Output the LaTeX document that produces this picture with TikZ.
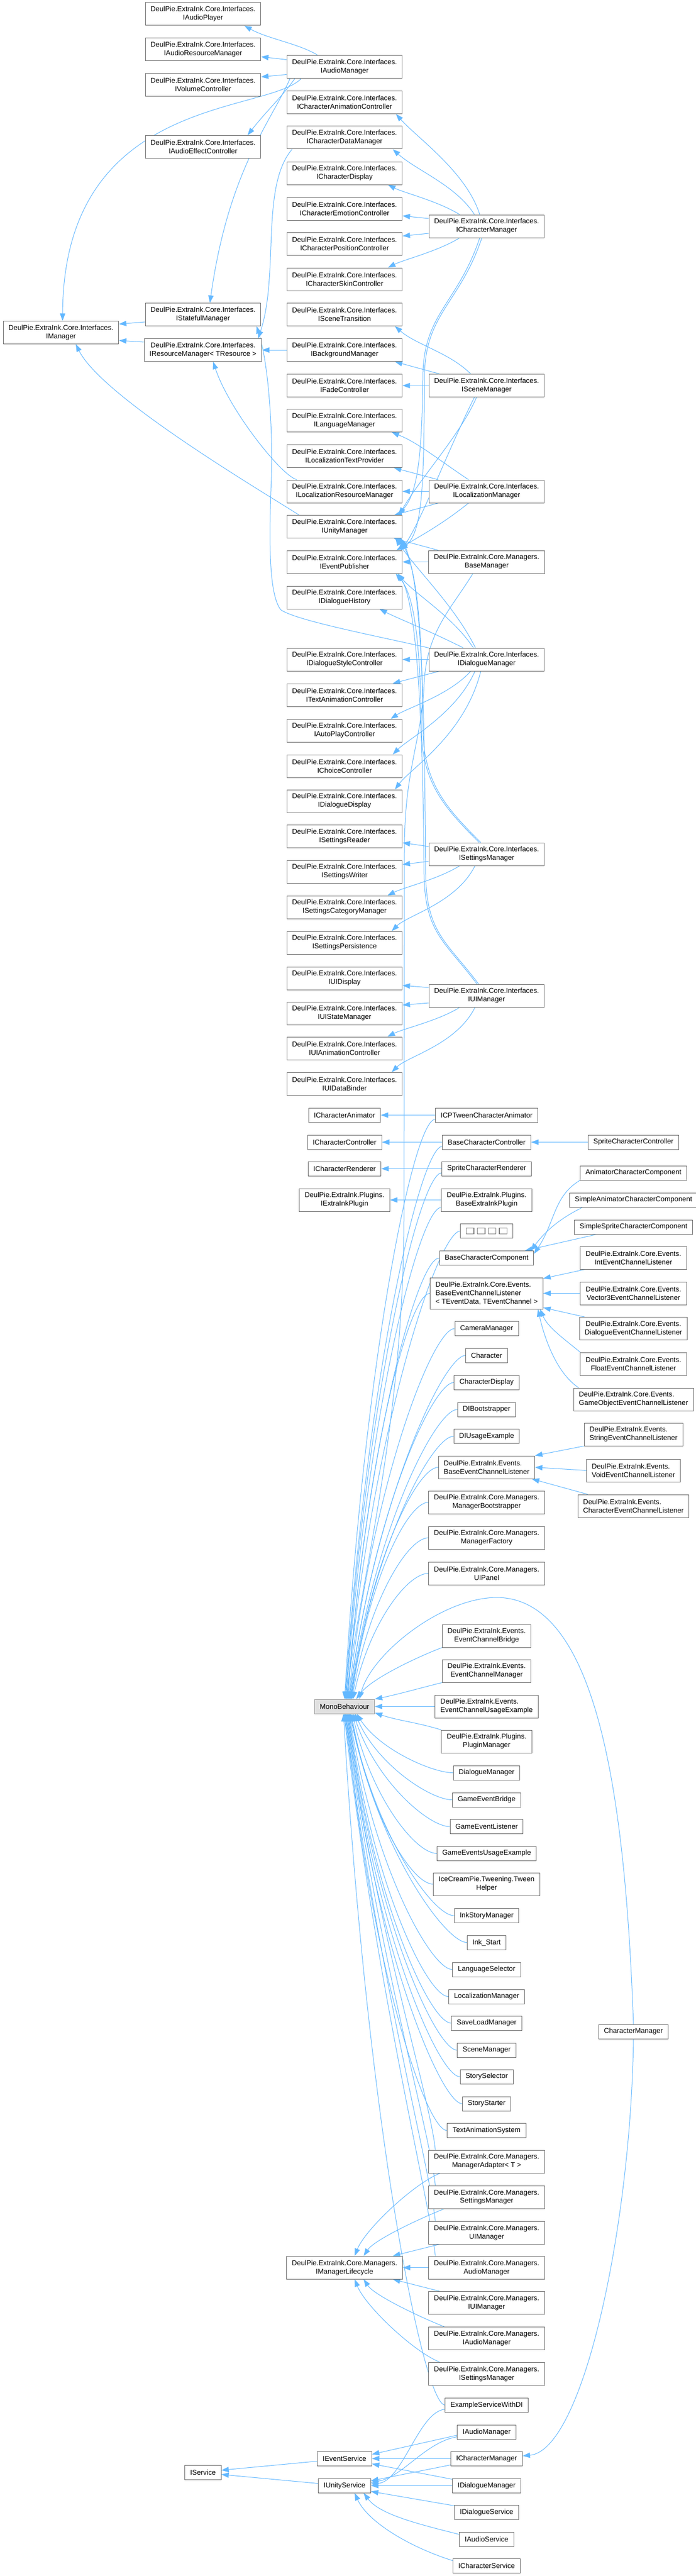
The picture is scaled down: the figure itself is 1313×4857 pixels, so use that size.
\documentclass[tikz,border=0pt]{standalone}
\usepackage{fontspec}
\setmainfont{Liberation Sans}
\usetikzlibrary{arrows.meta,calc}
\definecolor{eb}{HTML}{63B8FF}
\definecolor{bd}{HTML}{666666}
\definecolor{mbf}{HTML}{E0E0E0}
\definecolor{mbd}{HTML}{999999}
\pgfdeclarelayer{bg}
\pgfdeclarelayer{edges}
\pgfsetlayers{bg,edges,main}
\newcommand\xI{DeulPie.ExtraInk.Core.Interfaces.}
\newcommand\xM{DeulPie.ExtraInk.Core.Managers.}
\newcommand\xCE{DeulPie.ExtraInk.Core.Events.}
\newcommand\xE{DeulPie.ExtraInk.Events.}
\newcommand\xP{DeulPie.ExtraInk.Plugins.}
\newcommand\tofu{{\setlength\fboxsep{0pt}\setlength\fboxrule{1.4pt}\textcolor{gray}{\fbox{\rule{0pt}{10pt}\rule{13pt}{0pt}}}}}
\tikzset{
 cls/.style={draw=bd, fill=white, line width=1pt, inner xsep=10pt, inner ysep=0pt, align=center, minimum height=27pt, font=\fontsize{13.33pt}{16pt}\selectfont},
 b1/.style={cls},
 b2/.style={cls, minimum height=43pt},
 b3/.style={cls, minimum height=59pt},
 lft/.style={align=left},
 inh/.style={draw=eb, line width=1pt, -{Triangle[length=14pt,width=10pt]}},
}
\newcommand\tomb[2]{\draw[inh] let \p1=(#1), \p2=(#2) in (\p1) .. controls (\x1-40pt,\y1) and ({\x2+0.3*(\x1-40pt-\x2)},{\y2+0.6*(\y1-\y2)}) .. (\p2);}
\newcommand\tombv[2]{\draw[inh] let \p1=([xshift=13pt]#1.north west), \p2=(#2) in (\p1) .. controls (\x1-10pt,\y1+100pt) and ({\x2+0.35*(\x1-\x2)},{\y2+0.5*(\y1-\y2)}) .. (\p2);}
\begin{document}
\begin{tikzpicture}[x=1pt,y=-1pt]
\useasboundingbox (0,0) rectangle (1313,4857);
\begin{pgfonlayer}{bg}
\fill[white] (0,0) rectangle (1313,4857);
\end{pgfonlayer}
% column A / C
\node[b2] (im) at (115,627) {\xI\\IManager};
\node[b2] (iap) at (383,26.5) {\xI\\IAudioPlayer};
\node[b2] (iarm) at (383,93) {\xI\\IAudioResourceManager};
\node[b2] (ivc) at (383,160) {\xI\\IVolumeController};
\node[b2] (iaec) at (383,277) {\xI\\IAudioEffectController};
\node[b2] (ism) at (383,593) {\xI\\IStatefulManager};
\node[b2] (irm) at (383,660) {\xI\\IResourceManager< TResource >};
\node[b1] (isvc) at (383,4661.5) {IService};
% column D
\node[b2] (iam) at (650,126.5) {\xI\\IAudioManager};
\node[b2] (icac) at (650,193) {\xI\\ICharacterAnimationController};
\node[b2] (icdm) at (650,259.5) {\xI\\ICharacterDataManager};
\node[b2] (icd) at (650,326.5) {\xI\\ICharacterDisplay};
\node[b2] (icec) at (650,393.5) {\xI\\ICharacterEmotionController};
\node[b2] (icpc) at (650,459.5) {\xI\\ICharacterPositionController};
\node[b2] (icsc) at (650,526.5) {\xI\\ICharacterSkinController};
\node[b2] (ist) at (650,593) {\xI\\ISceneTransition};
\node[b2] (ibg) at (650,660) {\xI\\IBackgroundManager};
\node[b2] (ifc) at (650,727) {\xI\\IFadeController};
\node[b2] (ilm) at (650,793) {\xI\\ILanguageManager};
\node[b2] (iltp) at (650,860) {\xI\\ILocalizationTextProvider};
\node[b2] (ilrm) at (650,926.5) {\xI\\ILocalizationResourceManager};
\node[b2] (iun) at (650,993) {\xI\\IUnityManager};
\node[b2] (iep) at (650,1059.5) {\xI\\IEventPublisher};
\node[b2] (idh) at (650,1126.5) {\xI\\IDialogueHistory};
\node[b2] (idsc) at (650,1243.5) {\xI\\IDialogueStyleController};
\node[b2] (itac) at (650,1310.5) {\xI\\ITextAnimationController};
\node[b2] (iapc) at (650,1377.5) {\xI\\IAutoPlayController};
\node[b2] (icc) at (650,1444.5) {\xI\\IChoiceController};
\node[b2] (idd) at (650,1510.5) {\xI\\IDialogueDisplay};
\node[b2] (isr) at (650,1577) {\xI\\ISettingsReader};
\node[b2] (isw) at (650,1643.5) {\xI\\ISettingsWriter};
\node[b2] (iscm) at (650,1710.5) {\xI\\ISettingsCategoryManager};
\node[b2] (isp) at (650,1777.5) {\xI\\ISettingsPersistence};
\node[b2] (iuid) at (650,1844.5) {\xI\\IUIDisplay};
\node[b2] (iusm) at (650,1910.5) {\xI\\IUIStateManager};
\node[b2] (iuac) at (650,1976.5) {\xI\\IUIAnimationController};
\node[b2] (iudb) at (650,2043.5) {\xI\\IUIDataBinder};
\node[b1] (ica) at (650,2102.5) {ICharacterAnimator};
\node[b1] (ictl) at (650,2153.5) {ICharacterController};
\node[b1] (icr) at (650,2203.5) {ICharacterRenderer};
\node[b2] (iplug) at (650,2262.5) {\xP\\IExtraInkPlugin};
\node[b1, fill=mbf, draw=mbd] (mb) at (650,3217.5) {MonoBehaviour};
\node[b2] (iml) at (650,4275.5) {\xM\\IManagerLifecycle};
\node[b1] (ies) at (650,4635.5) {IEventService};
\node[b1] (ius) at (650,4686.5) {IUnityService};
% column E
\node[b2] (icm) at (918,426.5) {\xI\\ICharacterManager};
\node[b2] (iscnm) at (918,727) {\xI\\ISceneManager};
\node[b2] (ilocm) at (918,926.5) {\xI\\ILocalizationManager};
\node[b2] (bm) at (918,1059.5) {\xM\\BaseManager};
\node[b2] (idm) at (918,1243.5) {\xI\\IDialogueManager};
\node[b2] (isetm) at (918,1610.5) {\xI\\ISettingsManager};
\node[b2] (iuim) at (918,1877.5) {\xI\\IUIManager};
\node[b1] (ictca) at (918,2102.5) {ICPTweenCharacterAnimator};
\node[b1] (bcc) at (918,2153.5) {BaseCharacterController};
\node[b1] (scr) at (918,2203.5) {SpriteCharacterRenderer};
\node[b2] (bplug) at (918,2262.5) {\xP\\BaseExtraInkPlugin};
\node[b1] (tofu) at (918,2321) {\tofu\hspace{5pt}\tofu\hspace{5pt}\tofu\hspace{5pt}\tofu};
\node[b1] (bcomp) at (918,2372) {BaseCharacterComponent};
\node[b3, lft] (becl) at (918,2438.5) {\xCE\\BaseEventChannelListener\\< TEventData, TEventChannel >};
\node[b1] (camm) at (918,2505) {CameraManager};
\node[b1] (chr) at (918,2555.5) {Character};
\node[b1] (chd) at (918,2606.5) {CharacterDisplay};
\node[b1] (dib) at (918,2657.5) {DIBootstrapper};
\node[b1] (diu) at (918,2708) {DIUsageExample};
\node[b2, lft] (ebecl) at (918,2766.5) {\xE\\BaseEventChannelListener};
\node[b2] (mbs) at (918,2832.5) {\xM\\ManagerBootstrapper};
\node[b2] (mf) at (918,2899.5) {\xM\\ManagerFactory};
\node[b2] (uip) at (918,2966.5) {\xM\\UIPanel};
\node[b2] (ecb) at (918,3084.5) {\xE\\EventChannelBridge};
\node[b2] (ecm) at (918,3150.5) {\xE\\EventChannelManager};
\node[b2, lft] (ecue) at (918,3217.5) {\xE\\EventChannelUsageExample};
\node[b2] (plm) at (918,3283.5) {\xP\\PluginManager};
\node[b1] (dlm) at (918,3342.5) {DialogueManager};
\node[b1] (geb) at (918,3393.5) {GameEventBridge};
\node[b1] (gel) at (918,3444) {GameEventListener};
\node[b1] (geue) at (918,3494.5) {GameEventsUsageExample};
\node[b2] (twh) at (918,3552.5) {IceCreamPie.Tweening.Tween\\Helper};
\node[b1] (ksm) at (918,3612) {InkStoryManager};
\node[b1] (inks) at (918,3662.5) {Ink\_Start};
\node[b1] (lsel) at (918,3713.5) {LanguageSelector};
\node[b1] (locm) at (918,3764.5) {LocalizationManager};
\node[b1] (slm) at (918,3814.5) {SaveLoadManager};
\node[b1] (scm) at (918,3865.5) {SceneManager};
\node[b1] (ssel) at (918,3915.5) {StorySelector};
\node[b1] (sst) at (918,3966.5) {StoryStarter};
\node[b1] (tas) at (918,4017) {TextAnimationSystem};
\node[b2] (mad) at (918,4075.5) {\xM\\ManagerAdapter< T >};
\node[b2] (msm) at (918,4142.5) {\xM\\SettingsManager};
\node[b2] (muim) at (918,4209.5) {\xM\\UIManager};
\node[b2] (mam) at (918,4275.5) {\xM\\AudioManager};
\node[b2] (miui) at (918,4342) {\xM\\IUIManager};
\node[b2] (miau) at (918,4409) {\xM\\IAudioManager};
\node[b2] (mise) at (918,4475.5) {\xM\\ISettingsManager};
\node[b1] (esdi) at (918,4534.5) {ExampleServiceWithDI};
\node[b1] (siam) at (918,4585.5) {IAudioManager};
\node[b1] (sicm) at (918,4635.5) {ICharacterManager};
\node[b1] (sidm) at (918,4686.5) {IDialogueManager};
\node[b1] (sids) at (918,4736.5) {IDialogueService};
\node[b1] (sias) at (918,4787.5) {IAudioService};
\node[b1] (sics) at (918,4838) {ICharacterService};
% column F
\node[b1] (scc) at (1195,2153.5) {SpriteCharacterController};
\node[b1] (acc) at (1195,2211.5) {AnimatorCharacterComponent};
\node[b1] (sacc) at (1195,2262.5) {SimpleAnimatorCharacterComponent};
\node[b1] (sscc) at (1195,2313.5) {SimpleSpriteCharacterComponent};
\node[b2] (iecl) at (1195,2371.5) {\xCE\\IntEventChannelListener};
\node[b2] (v3) at (1195,2438.5) {\xCE\\Vector3EventChannelListener};
\node[b2] (decl) at (1195,2505) {\xCE\\DialogueEventChannelListener};
\node[b2] (fecl) at (1195,2571.5) {\xCE\\FloatEventChannelListener};
\node[b2, lft] (goecl) at (1195,2638.5) {\xCE\\GameObjectEventChannelListener};
\node[b2, lft] (strl) at (1195,2704.5) {\xE\\StringEventChannelListener};
\node[b2, lft] (voidl) at (1195,2772.5) {\xE\\VoidEventChannelListener};
\node[b2, lft] (chrl) at (1195,2839.5) {\xE\\CharacterEventChannelListener};
\node[b1] (cm) at (1195,3830.5) {CharacterManager};

\begin{pgfonlayer}{edges}
% audio / top-left
\draw[inh] ([xshift=-50pt]iam.north) .. controls +(-35,-22) and +(45,25) .. ([xshift=78pt]iap.south);
\draw[inh] ([yshift=14pt]iam.west) -- ([yshift=-14pt]iarm.east);
\draw[inh] ([yshift=-14pt]iam.west) -- ([yshift=15pt]ivc.east);
\draw[inh] ([xshift=-94pt]iam.south) .. controls +(-25,35) and +(35,-45) .. ([xshift=84pt]iaec.north);
\draw[inh] ([xshift=-82pt]iam.south) .. controls +(-68,67) and +(2,-426) .. ([xshift=3pt]im.north);
\draw[inh] ([xshift=-103pt]iam.south) .. controls +(-35,80) and +(35,-250) .. ([xshift=13pt]ism.north);
\draw[inh] ([xshift=-99pt]icdm.south) .. controls +(-60,70) and +(40,-120) .. ([xshift=104pt]irm.north);
\draw[inh] (ibg.west) -- (irm.east);
\draw[inh] ([yshift=-14pt]ism.west) -- ([yshift=16pt]im.east);
\draw[inh] ([yshift=15pt]irm.west) -- ([yshift=-15pt]im.east);
\draw[inh] ([xshift=-86pt]iun.north) .. controls +(-70,-45) and +(50,100) .. ([xshift=28pt]im.south);
\draw[inh] ([xshift=-90pt]ilrm.north) .. controls +(-30,-8) and +(30,90) .. ([xshift=19pt]irm.south);
\draw[inh] (idm.north west) .. controls (700,1197) and (560,1170) .. (530,1150) .. controls (505,1120) and (508,1000) .. (512,900) .. controls (515,800) and (505,680) .. ([xshift=101pt]ism.south);
% ICharacterManager
\draw[inh] ([xshift=-13pt]icm.north) .. controls +(-25,-80) and +(40,45) .. ([xshift=97pt]icac.south);
\draw[inh] ([xshift=-23pt]icm.north) .. controls +(-35,-55) and +(45,40) .. ([xshift=91pt]icdm.south);
\draw[inh] ([xshift=-51pt]icm.north) .. controls +(-40,-25) and +(30,15) .. ([xshift=82pt]icd.south);
\draw[inh] ([yshift=14.5pt]icm.west) -- ([yshift=-13.5pt]icec.east);
\draw[inh] ([yshift=-13.5pt]icm.west) -- ([yshift=14.5pt]icpc.east);
\draw[inh] ([xshift=-51pt]icm.south) .. controls +(-40,25) and +(30,-15) .. ([xshift=82pt]icsc.north);
\draw[inh] ([xshift=-13pt]icm.south) .. controls +(-40,120) and (802,590) .. (798,700) .. controls (796,850) and (790,930) .. ([xshift=100pt]iun.north);
\draw[inh] ([xshift=-9pt]icm.south) .. controls +(-40,120) and (805,590) .. (801,700) .. controls (799,900) and (800,1000) .. ([xshift=-4pt]iep.north east);
% ISceneManager
\draw[inh] ([xshift=-30pt]iscnm.north) .. controls +(-40,-40) and +(40,35) .. ([xshift=95pt]ist.south);
\draw[inh] ([xshift=-89pt]iscnm.north) -- ([xshift=95pt]ibg.south);
\draw[inh] (iscnm.west) -- (ifc.east);
\draw[inh] ([xshift=-19pt]iscnm.south) .. controls +(-30,70) and +(40,-70) .. ([xshift=103pt]iun.north);
\draw[inh] ([xshift=-23pt]iscnm.south) .. controls +(-50,100) and +(40,-60) .. ([xshift=107pt]iep.north);
% ILocalizationManager
\draw[inh] ([xshift=-34pt]ilocm.north) .. controls +(-60,-40) and +(50,20) .. ([xshift=89pt]ilm.south);
\draw[inh] ([xshift=-91pt]ilocm.north) -- ([xshift=93pt]iltp.south);
\draw[inh] (ilocm.west) -- (ilrm.east);
\draw[inh] ([xshift=-91pt]ilocm.south) -- ([xshift=94pt]iun.north);
\draw[inh] ([xshift=-34pt]ilocm.south) .. controls +(-50,40) and +(50,-30) .. ([xshift=98pt]iep.north);
% BaseManager
\draw[inh] ([xshift=-91pt]bm.north) -- ([xshift=93pt]iun.south);
\draw[inh] (bm.west) -- (iep.east);
\draw[inh] ([xshift=-26pt]bm.south) .. controls (850,1150) and (805,1190) .. (800,1290) .. controls (795,1400) and (763,1450) .. (763,1600) -- (762,2300) .. controls (761,2700) and (675,3000) .. ([xshift=4pt]mb.north);
% IDialogueManager
\draw[inh] ([xshift=-44pt]idm.north) .. controls +(-70,-35) and +(40,20) .. ([xshift=66pt]idh.south);
\draw[inh] ([xshift=-21pt]idm.north) .. controls +(-40,-80) and +(40,60) .. ([xshift=96pt]iun.south);
\draw[inh] ([xshift=-25pt]idm.north) .. controls +(-40,-60) and +(35,40) .. ([xshift=100pt]iep.south);
\draw[inh] (idm.west) -- (idsc.east);
\draw[inh] ([xshift=-89pt]idm.south) -- ([xshift=91pt]itac.north);
\draw[inh] ([xshift=-30pt]idm.south) .. controls +(-40,45) and +(30,-20) .. ([xshift=87pt]iapc.north);
\draw[inh] ([xshift=-22pt]idm.south) .. controls +(-35,80) and +(30,-30) .. ([xshift=91pt]icc.north);
\draw[inh] ([xshift=-11pt]idm.south) .. controls +(-30,120) and +(30,-40) .. ([xshift=95pt]idd.north);
% ISettingsManager
\draw[inh] ([yshift=14.5pt]isetm.west) -- ([yshift=-12pt]isr.east);
\draw[inh] ([yshift=-13.5pt]isetm.west) -- ([yshift=13.5pt]isw.east);
\draw[inh] ([xshift=-51pt]isetm.south) .. controls +(-40,25) and +(30,-15) .. ([xshift=81pt]iscm.north);
\draw[inh] ([xshift=-22pt]isetm.south) .. controls +(-35,70) and +(30,-30) .. ([xshift=89pt]isp.north);
\draw[inh] ([xshift=-11pt]isetm.north) .. controls +(-60,-60) and (800,1480) .. (798,1380) .. controls (796,1200) and (790,1080) .. ([xshift=-6pt]iun.south east);
\draw[inh] ([xshift=-14pt]isetm.north) .. controls +(-60,-60) and (797,1480) .. (795,1380) .. controls (793,1200) and (780,1120) .. ([xshift=-13pt]iep.south east);
% IUIManager
\draw[inh] ([yshift=15.5pt]iuim.west) -- ([yshift=-13.5pt]iuid.east);
\draw[inh] ([yshift=-13.5pt]iuim.west) -- ([yshift=15.5pt]iusm.east);
\draw[inh] ([xshift=-51pt]iuim.south) .. controls +(-40,25) and +(30,-15) .. ([xshift=81pt]iuac.north);
\draw[inh] ([xshift=-22pt]iuim.south) .. controls +(-35,70) and +(30,-30) .. ([xshift=89pt]iudb.north);
\draw[inh] ([xshift=-15pt]iuim.north) .. controls +(-60,-80) and (805,1760) .. (803,1650) .. controls (801,1400) and (800,1100) .. ([xshift=-3pt]iun.south east);
\draw[inh] ([xshift=-18pt]iuim.north) .. controls +(-60,-80) and (802,1760) .. (800,1650) .. controls (798,1400) and (790,1150) .. ([xshift=-8pt]iep.south east);
% lower simple
\draw[inh] (ictca.west) -- (ica.east);
\draw[inh] (bcc.west) -- (ictl.east);
\draw[inh] (scc.west) -- (bcc.east);
\draw[inh] (scr.west) -- (icr.east);
\draw[inh] (bplug.west) -- (iplug.east);
% character components
\draw[inh] (acc.south west) .. controls +(-50,30) and +(40,-60) .. ([yshift=8pt]bcomp.east);
\draw[inh] ([xshift=25pt]sacc.south west) .. controls +(-40,20) and +(30,-40) .. ([xshift=-6pt]bcomp.north east);
\draw[inh] ([xshift=42pt]sscc.south west) -- ([xshift=-17pt]bcomp.north east);
% listeners
\draw[inh] ([xshift=9pt]iecl.south west) -- ([yshift=-2pt]becl.north east);
\draw[inh] (v3.west) -- (becl.east);
\draw[inh] ([xshift=10pt]decl.north west) -- ([yshift=3pt]becl.south east);
\draw[inh] (fecl.north west) .. controls +(-30,-25) and +(15,35) .. ([xshift=-6pt]becl.south east);
\draw[inh] ([xshift=10pt]goecl.north west) .. controls +(-45,-30) and +(10,45) .. ([xshift=-10pt]becl.south east);
\draw[inh] (strl.south west) -- (ebecl.north east);
\draw[inh] (voidl.west) -- (ebecl.east);
\draw[inh] ([xshift=19pt]chrl.north west) -- ([xshift=-6pt]ebecl.south east);
% MonoBehaviour from above
\tomb{[yshift=-8pt]ictca.west}{mb.north}
\tomb{[yshift=-8pt]bcc.west}{[xshift=1pt]mb.north}
\tomb{[yshift=-8pt]scr.west}{[xshift=2pt]mb.north}
\tomb{[yshift=-14pt]bplug.west}{[xshift=3pt]mb.north}
\tomb{tofu.west}{[xshift=4pt]mb.north}
\tomb{bcomp.west}{[xshift=5pt]mb.north}
\tomb{becl.west}{[xshift=6pt]mb.north}
\tomb{camm.west}{[xshift=7pt]mb.north}
\tomb{chr.west}{[xshift=8pt]mb.north}
\tomb{chd.west}{[xshift=9pt]mb.north}
\tomb{dib.west}{[xshift=10pt]mb.north}
\tomb{diu.west}{[xshift=11pt]mb.north}
\tomb{ebecl.west}{[xshift=12pt]mb.north}
\tomb{mbs.west}{[xshift=13pt]mb.north}
\tomb{mf.west}{[xshift=14pt]mb.north}
\tomb{uip.west}{[xshift=16pt]mb.north}
\draw[inh] (ecb.south west) .. controls +(-40,15) and +(30,-40) .. ([xshift=22pt]mb.north);
\draw[inh] (ecm.south west) .. controls +(-40,10) and +(40,-8) .. (mb.north east);
\draw[inh] (ecue.west) -- (mb.east);
\draw[inh] (plm.north west) .. controls +(-50,-15) and +(45,15) .. ([yshift=2pt]mb.south east);
% MonoBehaviour from below
\tomb{dlm.west}{[xshift=23pt]mb.south}
\tomb{geb.west}{[xshift=20pt]mb.south}
\tomb{gel.west}{[xshift=17pt]mb.south}
\tomb{geue.west}{[xshift=15pt]mb.south}
\tomb{twh.west}{[xshift=13pt]mb.south}
\tomb{ksm.west}{[xshift=11pt]mb.south}
\tomb{inks.west}{[xshift=10pt]mb.south}
\tomb{lsel.west}{[xshift=9pt]mb.south}
\tomb{locm.west}{[xshift=8pt]mb.south}
\tomb{slm.west}{[xshift=7pt]mb.south}
\tomb{scm.west}{[xshift=6pt]mb.south}
\tomb{ssel.west}{[xshift=5pt]mb.south}
\tomb{sst.west}{[xshift=4pt]mb.south}
\tomb{tas.west}{[xshift=3pt]mb.south}
\tombv{mad}{[xshift=2pt]mb.south}
\tombv{msm}{[xshift=1pt]mb.south}
\tombv{muim}{mb.south}
\tombv{mam}{[xshift=-1pt]mb.south}
\tomb{esdi.west}{[xshift=-2pt]mb.south}
% CharacterManager
\draw[inh] (cm.north) .. controls (1180,3400) and (1130,3010) .. (935,3012) .. controls (830,3014) and (700,3120) .. ([xshift=28pt]mb.north);
\draw[inh] (cm.south) .. controls (1190,4200) and (1100,4620) .. ([yshift=5pt]sicm.east);
% lifecycle
\draw[inh] ([xshift=22pt]mad.south west) .. controls +(-50,20) and +(20,-50) .. ([xshift=19pt]iml.north);
\draw[inh] ([xshift=30pt]msm.south west) .. controls +(-50,20) and +(20,-30) .. ([xshift=36pt]iml.north);
\draw[inh] ([xshift=21pt]muim.south west) -- ([xshift=91pt]iml.north);
\draw[inh] (mam.west) -- (iml.east);
\draw[inh] ([xshift=21pt]miui.north west) -- ([xshift=91pt]iml.south);
\draw[inh] ([xshift=30pt]miau.north west) .. controls +(-50,-20) and +(20,30) .. ([xshift=36pt]iml.south);
\draw[inh] ([xshift=21pt]mise.north west) .. controls +(-50,-20) and +(20,50) .. ([xshift=19pt]iml.south);
% services
\draw[inh] ([yshift=-8pt]esdi.west) .. controls +(-50,5) and +(60,-5) .. ([yshift=3pt]ius.east);
\draw[inh] ([yshift=-6pt]siam.west) -- ([yshift=8pt]ies.east);
\draw[inh] ([yshift=-9pt]siam.west) .. controls +(-60,10) and +(60,-10) .. ([yshift=6pt]ius.east);
\draw[inh] (sicm.west) -- (ies.east);
\draw[inh] ([yshift=-12pt]sicm.west) -- ([yshift=9pt]ius.east);
\draw[inh] ([yshift=12pt]sidm.west) -- ([yshift=-10pt]ies.east);
\draw[inh] (sidm.west) -- (ius.east);
\draw[inh] ([yshift=12pt]sids.west) -- ([yshift=-11pt]ius.east);
\draw[inh] ([yshift=9pt]sias.west) .. controls +(-80,-20) and +(30,40) .. ([xshift=36pt]ius.south);
\draw[inh] ([yshift=10pt]sics.west) .. controls +(-80,-25) and +(25,55) .. ([xshift=19pt]ius.south);
\draw[inh] ([yshift=-5pt]ies.west) -- ([yshift=4pt]isvc.east);
\draw[inh] ([yshift=4pt]ius.west) -- ([yshift=-4pt]isvc.east);
\end{pgfonlayer}
\end{tikzpicture}
\end{document}
